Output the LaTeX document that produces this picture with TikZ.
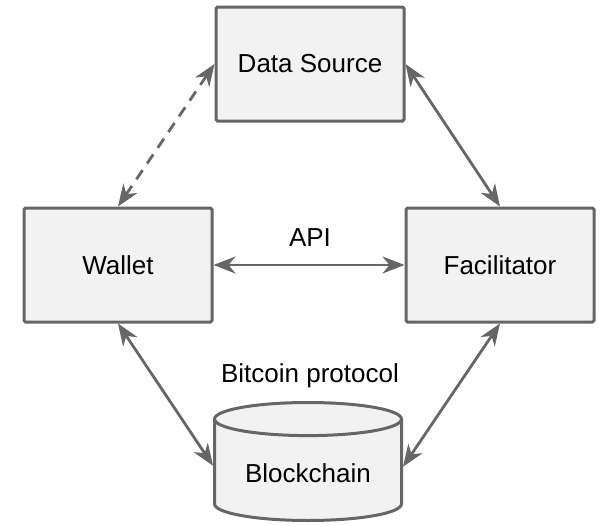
\documentclass[tikz,border=0pt]{standalone}
\usepackage{fontspec}
\setmainfont{Liberation Sans}
\usetikzlibrary{arrows.meta,shapes.geometric}

\definecolor{edgegray}{HTML}{666666}
\definecolor{boxfill}{HTML}{F2F2F2}

\begin{document}
\begin{tikzpicture}[x=1pt,y=-1pt,
    font=\fontsize{26}{30}\selectfont,
    link/.style={draw=edgegray,line width=2.8pt,
      {Stealth[length=22pt,width=17pt,inset=7pt]}-{Stealth[length=22pt,width=17pt,inset=7pt]}}]
   \useasboundingbox (0,0) rectangle (600,525);
   \begin{scope}[every node/.style={draw=edgegray,fill=boxfill,line width=3pt,
       rounded corners=1.5pt,minimum width=188pt,minimum height=114pt}]
    \node (source) at (310,64) {Data Source};
    \node (wallet) at (118,265) {Wallet};
    \node (facil) at (500,265) {Facilitator};
   \end{scope}
   \node (chain) [cylinder,shape border rotate=90,aspect=0.25,draw=edgegray,
     fill=boxfill,line width=3pt,minimum width=187pt,minimum height=118pt,
     anchor=south] at (308,522) {Blockchain};
   \node (api) at (310,238) {API};
   \node (proto) at (310,376) {Bitcoin protocol};
   \begin{scope}[every edge/.style={link}]
    \draw (wallet.north) edge[dash pattern=on 11pt off 8pt] (source.west);
    \draw (source.east) edge (facil.north);
    \draw (wallet.east) edge (facil.west);
    \draw (wallet.south) edge ([yshift=7pt]chain.west);
    \draw (facil.south) edge ([yshift=6pt]chain.east);
   \end{scope}
\end{tikzpicture}
\end{document}
